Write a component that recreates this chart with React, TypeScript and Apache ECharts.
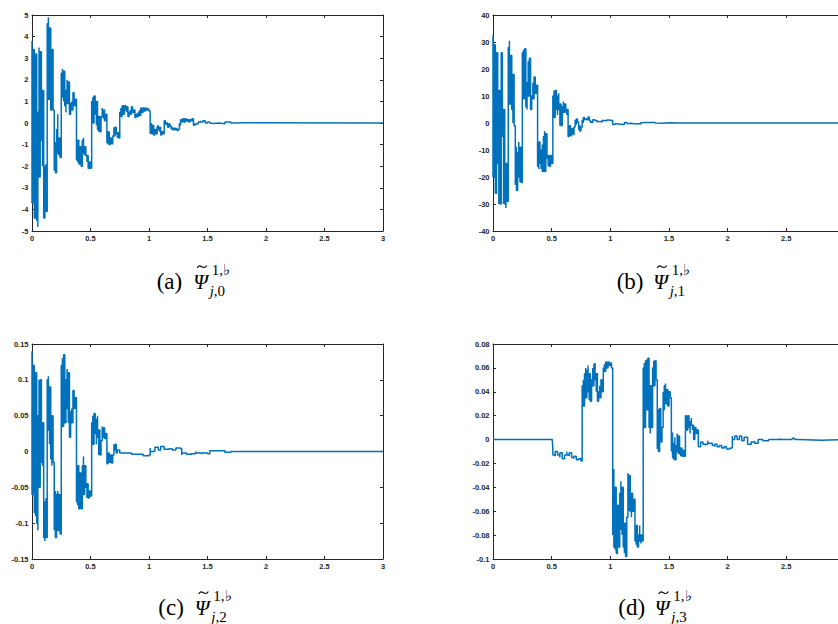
import React, { useEffect, useRef } from "react";
import * as echarts from "echarts";

type Row = [number, number, number]; // [t, upper envelope, lower envelope]

const xTicks = [0, 0.5, 1, 1.5, 2, 2.5, 3];

// (a) Psi~_{j,0}
const psiJ0: Row[] = [
  [0, 3.8, -3.7], [0.01, 3.4, -3.0], [0.02, 3.2, -4.4], [0.03, 3.2, -4.4], [0.04, 2.6, -4.5],
  [0.05, 0.5, -4.8], [0.06, 3.5, -2.5], [0.07, 3.3, -0.8], [0.08, 1.6, -0.8], [0.09, 1.5, -2.0],
  [0.1, -1.9, -4.4], [0.11, -2.0, -4.4], [0.12, -1.9, -4.1], [0.13, 4.6, 1.0], [0.14, 4.9, 1.1],
  [0.15, 4.4, 1.2], [0.16, 3.5, 0.6], [0.17, 3.4, 0.9], [0.18, 2.5, 0.6], [0.19, -0.9, -2.2],
  [0.2, -0.9, -2.3], [0.21, -0.3, -2.3], [0.22, 0.4, -1.4], [0.23, -0.7, -1.5], [0.24, -0.9, -1.6],
  [0.25, 2.3, 0.6], [0.26, 2.5, 1.2], [0.27, 2.4, 1.0], [0.28, 2.2, 0.8], [0.29, 1.5, 0.5],
  [0.3, 2.0, 0.9], [0.31, 1.9, 1.2], [0.32, 1.4, 0.4], [0.33, 0.9, 0.5], [0.34, 1.0, 0.6],
  [0.35, 1.4, 0.7], [0.36, 1.3, 0.8], [0.37, 1.1, 0.9], [0.38, -0.6, -1.7], [0.39, -0.8, -1.8],
  [0.4, -0.9, -1.9], [0.41, -1.1, -1.9], [0.42, -1.2, -2.0], [0.43, -0.8, -1.5], [0.44, -0.7, -1.4],
  [0.45, -1.1, -1.5], [0.46, -1.3, -1.5], [0.47, -1.5, -1.8], [0.48, -1.6, -2.1], [0.49, -1.8, -2.1],
  [0.5, -1.9, -2.1], [0.51, 1.0, -0.1], [0.52, 1.2, 0.0], [0.53, 1.25, 0.3], [0.54, 1.2, 0.4],
  [0.55, 1.0, -0.1], [0.56, 0.7, -0.3], [0.57, 0.3, -0.4], [0.58, 0.0, -0.4], [0.59, 0.3, -0.1],
  [0.6, 0.7, 0.3], [0.61, 0.6, 0.2], [0.62, 0.5, 0.1], [0.63, 0.4, 0.2], [0.64, -0.5, -0.9],
  [0.65, -0.4, -1.0], [0.66, -0.6, -1.0], [0.67, -0.7, -1.0], [0.68, -0.7, -0.95], [0.69, -0.6, -1.0],
  [0.7, -0.2, -0.6], [0.71, -0.2, -0.5], [0.72, -0.35, -0.5], [0.73, -0.45, -0.7], [0.74, -0.5, -0.7],
  [0.75, 0.5, 0.2], [0.76, 0.7, 0.3], [0.77, 0.8, 0.35], [0.78, 0.8, 0.4], [0.79, 0.8, 0.5],
  [0.8, 0.85, 0.6], [0.81, 0.75, 0.5], [0.82, 0.6, 0.3], [0.83, 0.5, 0.3], [0.84, 0.6, 0.4],
  [0.85, 0.75, 0.45], [0.86, 0.7, 0.5], [0.87, 0.6, 0.45], [0.88, 0.5, 0.25], [0.89, 0.4, 0.25],
  [0.9, 0.45, 0.3], [0.91, 0.5, 0.3], [0.92, 0.6, 0.35], [0.93, 0.7, 0.45], [0.94, 0.65, 0.5],
  [0.95, 0.7, 0.55], [0.96, 0.65, 0.55], [0.97, 0.7, 0.6], [0.98, 0.7, 0.6], [0.99, 0.65, 0.6],
  [1.0, 0.65, 0.55], [1.01, -0.1, -0.5], [1.02, 0.0, -0.5], [1.03, -0.1, -0.4], [1.04, -0.2, -0.55],
  [1.05, -0.3, -0.5], [1.06, -0.4, -0.5], [1.07, -0.15, -0.35], [1.08, -0.1, -0.3], [1.09, -0.2, -0.4],
  [1.1, -0.3, -0.55], [1.11, -0.4, -0.55], [1.12, -0.4, -0.5], [1.13, 0.1, -0.1], [1.14, 0.1, -0.05],
  [1.15, 0.0, -0.1], [1.16, -0.1, -0.2], [1.17, -0.05, -0.2], [1.18, -0.1, -0.15], [1.19, -0.2, -0.3],
  [1.2, -0.2, -0.3], [1.21, -0.25, -0.35], [1.22, -0.2, -0.3], [1.23, -0.25, -0.35], [1.24, -0.3, -0.35],
  [1.25, -0.3, -0.35], [1.26, 0.0, -0.1], [1.27, 0.15, 0.0], [1.28, 0.2, 0.05], [1.29, 0.2, 0.1],
  [1.3, 0.15, 0.05], [1.31, 0.2, 0.1], [1.32, 0.2, 0.1], [1.33, 0.15, 0.05], [1.34, 0.1, 0.05],
  [1.35, 0.15, 0.1], [1.36, 0.2, 0.1], [1.37, 0.2, 0.15], [1.38, -0.05, -0.1], [1.39, -0.05, -0.1],
  [1.4, 0.0, -0.05], [1.42, 0.05, -0.05], [1.44, 0.1, 0.05], [1.46, 0.1, 0.05], [1.48, 0.05, 0.0],
  [1.5, 0.05, 0.0], [1.52, 0.0, -0.02], [1.55, 0.0, -0.03], [1.6, -0.02, -0.03], [1.65, 0.05, 0.0],
  [1.7, 0.03, 0.0], [1.75, 0.01, 0.0], [1.8, 0, 0], [3.0, 0, 0],
];

// (b) Psi~_{j,1}
const psiJ1: Row[] = [
  [0, 32.6, -20], [0.01, 29, -10], [0.02, 20, -26], [0.03, 26, -26], [0.04, 22, -15],
  [0.05, 12, -30], [0.06, 12, -30], [0.07, 26, -5], [0.08, 24, -5], [0.09, 5, -30],
  [0.1, -15, -30], [0.11, -15, -31.5], [0.12, -17, -29], [0.13, 28, 8], [0.14, 30.5, 7],
  [0.15, 25, 8], [0.16, 17, 5], [0.17, 18, 0], [0.18, 17, -1], [0.19, -9, -23],
  [0.2, -10, -25], [0.21, -11, -25], [0.22, -7, -20], [0.23, -9, -22], [0.24, -15, -22],
  [0.25, 26, 12], [0.26, 27, 9], [0.27, 27.5, 13], [0.28, 25, 6], [0.29, 15, 5],
  [0.3, 23, 10], [0.31, 24, 10], [0.32, 17, 5], [0.33, 10, 5], [0.34, 15, 9],
  [0.35, 17, 11], [0.36, 16, 11], [0.37, 14, 11], [0.38, -5, -16], [0.39, -7, -17],
  [0.4, -8, -15], [0.41, -10, -17], [0.42, -8, -18], [0.43, -5, -17], [0.44, -3, -18],
  [0.45, -4, -13], [0.46, -10, -13], [0.47, -12, -16], [0.48, -12, -16], [0.49, -12, -16],
  [0.5, -12, -15], [0.51, 10, 2], [0.52, 12, 2], [0.53, 12, 4], [0.54, 11, 5],
  [0.55, 10, 3], [0.56, 11, 5], [0.57, 7, -1], [0.58, 4, -1], [0.59, 6, 1],
  [0.6, 8, 4], [0.61, 7, 4], [0.62, 7, 4], [0.63, 5, 3], [0.64, -2, -5],
  [0.65, -1, -5], [0.66, -1, -4.5], [0.67, -2, -5], [0.68, -2, -4], [0.69, -1.5, -4.5],
  [0.7, 1.2, -0.5], [0.71, 1.5, 0], [0.72, 1.2, 0.3], [0.73, -1, -2.5], [0.74, -1.5, -3],
  [0.75, -1.5, -2.5], [0.76, 1.2, 0.2], [0.77, 2, 0.8], [0.78, 2, 1.2], [0.79, 1.5, 1],
  [0.8, 1.8, 1.2], [0.81, 2.2, 1.5], [0.82, 1.6, 1], [0.83, 0.5, 0], [0.84, 0.6, 0.2],
  [0.85, 1.2, 0.7], [0.87, 1.4, 0.8], [0.89, 0.6, 0.4], [0.91, 0.7, 0.4], [0.93, 0.9, 0.6],
  [0.95, 1.0, 0.8], [0.97, 1.1, 0.9], [0.99, 1.0, 0.9], [1.01, 1.0, 0.8], [1.02, -0.3, -0.6],
  [1.04, -0.3, -0.6], [1.06, -0.2, -0.5], [1.08, -0.5, -0.7], [1.1, -0.2, -0.6], [1.12, 0.2, -0.1],
  [1.14, 0.0, -0.2], [1.16, -0.1, -0.2], [1.18, -0.2, -0.3], [1.2, -0.3, -0.4], [1.24, -0.3, -0.4],
  [1.26, 0.2, 0.1], [1.3, 0.4, 0.2], [1.36, 0.3, 0.2], [1.38, 0.0, -0.1], [1.45, 0.1, 0.0],
  [1.5, 0.05, 0], [1.6, 0.02, 0], [1.7, 0, 0], [3.0, 0, 0],
];

// (c) Psi~_{j,2}
const psiJ2: Row[] = [
  [0, 0.14, -0.06], [0.01, 0.12, -0.06], [0.02, 0.11, -0.085], [0.03, 0.11, -0.09], [0.04, 0.06, -0.1],
  [0.05, 0.05, -0.11], [0.06, 0.1, -0.05], [0.07, 0.1, -0.02], [0.08, 0.045, -0.015], [0.09, 0.04, -0.02],
  [0.1, -0.06, -0.12], [0.11, -0.07, -0.125], [0.12, -0.065, -0.12], [0.13, 0.1, 0.02], [0.14, 0.105, 0.03],
  [0.15, 0.09, 0.01], [0.16, 0.085, -0.01], [0.17, 0.05, -0.02], [0.18, 0.045, -0.015], [0.19, -0.06, -0.11],
  [0.2, -0.055, -0.12], [0.21, -0.06, -0.12], [0.22, -0.055, -0.11], [0.23, -0.06, -0.11], [0.24, -0.075, -0.115],
  [0.25, 0.12, 0.04], [0.26, 0.13, 0.035], [0.27, 0.135, 0.05], [0.28, 0.125, 0.04], [0.29, 0.1, 0.05],
  [0.3, 0.115, 0.06], [0.31, 0.11, 0.04], [0.32, 0.07, 0.02], [0.33, 0.055, 0.03], [0.34, 0.06, 0.04],
  [0.35, 0.085, 0.05], [0.36, 0.08, 0.06], [0.37, 0.075, 0.065], [0.38, -0.02, -0.07], [0.39, -0.02, -0.075],
  [0.4, -0.03, -0.08], [0.41, -0.03, -0.075], [0.42, -0.035, -0.08], [0.43, -0.02, -0.07], [0.44, -0.007, -0.06],
  [0.45, -0.02, -0.045], [0.46, -0.035, -0.05], [0.47, -0.045, -0.065], [0.48, -0.05, -0.065], [0.49, -0.055, -0.06],
  [0.5, -0.055, -0.062], [0.51, 0.04, 0.008], [0.52, 0.05, 0.01], [0.53, 0.053, 0.02], [0.54, 0.05, 0.025],
  [0.55, 0.045, 0.01], [0.56, 0.05, 0.02], [0.57, 0.03, -0.005], [0.58, 0.02, -0.005], [0.59, 0.015, 0.005],
  [0.6, 0.035, 0.02], [0.61, 0.033, 0.02], [0.62, 0.03, 0.018], [0.63, 0.025, 0.018], [0.64, -0.005, -0.017],
  [0.65, -0.002, -0.016], [0.66, -0.003, -0.015], [0.67, -0.005, -0.013], [0.68, -0.006, -0.016], [0.69, -0.005, -0.015],
  [0.7, 0.01, 0.002], [0.71, 0.01, 0.003], [0.72, 0.005, -0.002], [0.73, 0.002, -0.002], [0.75, 0.0, -0.002],
  [0.8, -0.002, -0.003], [0.85, -0.003, -0.004], [0.9, -0.004, -0.005], [0.95, -0.005, -0.006], [1.0, -0.005, -0.007],
  [1.01, 0.005, 0.0], [1.05, 0.006, 0.003], [1.08, 0.004, 0.002], [1.1, 0.007, 0.004], [1.13, 0.005, 0.003],
  [1.17, 0.004, 0.002], [1.2, 0.003, 0.002], [1.23, 0.005, 0.003], [1.27, 0.005, 0.004], [1.28, -0.002, -0.005],
  [1.32, -0.002, -0.004], [1.36, -0.003, -0.005], [1.4, 0.0, -0.002], [1.45, -0.002, -0.004], [1.5, -0.002, -0.003],
  [1.52, 0.001, 0.0], [1.6, 0.002, 0.001], [1.65, -0.001, -0.002], [1.7, 0.001, 0.0], [1.75, 0.0, -0.001],
  [1.9, 0, 0], [3.0, 0, 0],
];

// (d) Psi~_{j,3}
const psiJ3: Row[] = [
  [0, 0, 0], [0.505, 0, 0], [0.51, -0.008, -0.013], [0.53, -0.01, -0.014], [0.55, -0.01, -0.013],
  [0.57, -0.011, -0.015], [0.59, -0.012, -0.016], [0.61, -0.013, -0.016], [0.63, -0.01, -0.013], [0.65, -0.011, -0.014],
  [0.67, -0.013, -0.015], [0.69, -0.014, -0.016], [0.71, -0.015, -0.017], [0.73, -0.016, -0.017], [0.75, -0.016, -0.018],
  [0.76, 0.045, 0.025], [0.77, 0.05, 0.028], [0.78, 0.055, 0.03], [0.79, 0.06, 0.035], [0.8, 0.058, 0.04],
  [0.81, 0.062, 0.04], [0.82, 0.055, 0.033], [0.83, 0.045, 0.032], [0.84, 0.05, 0.04], [0.85, 0.06, 0.045],
  [0.86, 0.063, 0.05], [0.87, 0.064, 0.05], [0.88, 0.055, 0.04], [0.89, 0.045, 0.032], [0.9, 0.04, 0.032],
  [0.91, 0.045, 0.035], [0.92, 0.05, 0.04], [0.93, 0.048, 0.04], [0.94, 0.06, 0.055], [0.95, 0.063, 0.057],
  [0.96, 0.065, 0.058], [0.97, 0.064, 0.06], [0.98, 0.065, 0.06], [0.99, 0.065, 0.062], [1.0, 0.064, 0.062],
  [1.01, 0.063, 0.06], [1.02, -0.025, -0.08], [1.03, -0.03, -0.09], [1.04, -0.04, -0.092], [1.05, -0.045, -0.095],
  [1.06, -0.055, -0.096], [1.07, -0.06, -0.09], [1.08, -0.045, -0.08], [1.09, -0.035, -0.075], [1.1, -0.04, -0.08],
  [1.11, -0.06, -0.09], [1.12, -0.07, -0.095], [1.13, -0.075, -0.098], [1.14, -0.065, -0.09], [1.15, -0.028, -0.05],
  [1.16, -0.03, -0.06], [1.17, -0.035, -0.06], [1.18, -0.045, -0.065], [1.19, -0.045, -0.06], [1.2, -0.05, -0.055],
  [1.21, -0.075, -0.085], [1.22, -0.072, -0.088], [1.23, -0.075, -0.09], [1.24, -0.08, -0.09], [1.25, -0.072, -0.085],
  [1.26, -0.08, -0.087], [1.27, -0.08, -0.085], [1.28, 0.06, 0.005], [1.29, 0.064, 0.01], [1.3, 0.066, 0.02],
  [1.31, 0.067, 0.025], [1.32, 0.068, 0.03], [1.33, 0.065, 0.01], [1.34, 0.045, 0.005], [1.35, 0.04, 0.01],
  [1.36, 0.06, 0.035], [1.37, 0.066, 0.045], [1.38, 0.066, 0.05], [1.39, 0.063, 0.05], [1.4, 0.025, -0.008],
  [1.41, 0.025, -0.01], [1.42, 0.026, 0.0], [1.43, 0.02, -0.002], [1.44, 0.01, -0.002], [1.45, 0.04, 0.025],
  [1.46, 0.045, 0.03], [1.47, 0.047, 0.03], [1.48, 0.042, 0.03], [1.49, 0.035, 0.028], [1.5, 0.04, 0.03],
  [1.51, 0.04, 0.035], [1.52, 0.005, -0.01], [1.53, 0.006, -0.015], [1.54, -0.003, -0.017], [1.55, 0.002, -0.017],
  [1.56, -0.005, -0.015], [1.57, 0.005, -0.01], [1.58, 0.003, -0.012], [1.59, -0.005, -0.012], [1.6, -0.007, -0.014],
  [1.61, -0.008, -0.014], [1.62, -0.009, -0.013], [1.63, -0.009, -0.014], [1.64, 0.02, 0.01], [1.65, 0.02, 0.008],
  [1.66, 0.02, 0.01], [1.67, 0.018, 0.01], [1.68, 0.015, 0.005], [1.69, 0.018, 0.012], [1.7, 0.012, 0.008],
  [1.71, 0.007, 0.0], [1.72, 0.01, 0.004], [1.73, 0.008, 0.005], [1.74, 0.008, 0.005], [1.75, -0.002, -0.006],
  [1.77, -0.002, -0.004], [1.79, -0.003, -0.004], [1.81, -0.004, -0.005], [1.83, -0.001, -0.003], [1.85, -0.003, -0.004],
  [1.87, -0.004, -0.005], [1.89, -0.004, -0.006], [1.91, -0.005, -0.006], [1.93, -0.005, -0.006], [1.95, -0.006, -0.007],
  [1.97, -0.006, -0.007], [1.99, -0.007, -0.008], [2.02, -0.007, -0.008], [2.04, 0.003, 0.0], [2.06, 0.003, 0.001],
  [2.08, 0.002, 0.0], [2.1, 0.003, 0.001], [2.12, 0.001, -0.001], [2.14, 0.002, 0.0], [2.17, -0.002, -0.004],
  [2.2, -0.002, -0.003], [2.23, -0.001, -0.003], [2.26, 0.0, -0.001], [2.3, 0.0, -0.001], [2.35, 0, 0],
  [2.45, 0.001, 0.0], [2.55, 0.001, 0.0], [2.57, 0, 0], [2.6, -0.0005, -0.0005], [2.8, 0, 0], [3.0, 0, 0],
];

const yMins = [-5, -40, -0.15, -0.1];
const yMaxs = [5, 40, 0.15, 0.08];
const yIntervals = [1, 10, 0.05, 0.02];
const panelLetters = ["a", "b", "c", "d"];
const panelIndices = ["0", "1", "2", "3"];
const panelData = [psiJ0, psiJ1, psiJ2, psiJ3];
// right-hand panels are cut by the page edge: their last x label is not shown
const showLastXLabel = [true, false, true, false];

const LINE = "#0072BD";
const AX = "#262626";

function toPolyline(rows: Row[]): [number, number][] {
  const out: [number, number][] = [];
  rows.forEach(([x, h, l], i) => {
    const a = i % 2 === 0 ? h : l;
    const b = i % 2 === 0 ? l : h;
    out.push([x, a]);
    if (a !== b) out.push([x, b]);
  });
  return out;
}

const grids = [
  { left: 32, top: 15, width: 351, height: 216 },
  { left: 493, top: 15, width: 352, height: 216 },
  { left: 32, top: 344, width: 351, height: 215 },
  { left: 493, top: 344, width: 352, height: 215 },
];

const captionPos = [
  { x: 156.7, y: 289 },
  { x: 616.7, y: 289 },
  { x: 158.3, y: 615 },
  { x: 618.3, y: 615 },
];

export default function App() {
  const ref = useRef<HTMLDivElement>(null);
  useEffect(() => {
    if (!ref.current) return;
    const chart = echarts.init(ref.current, undefined, { renderer: "svg" });
    const labelStyle = {
      fontSize: 7.5,
      fontWeight: "bold" as const,
      color: AX,
      fontFamily: "Liberation Sans, Arial, sans-serif",
    };
    const xAxes: any[] = [];
    const yAxes: any[] = [];
    const series: any[] = [];
    grids.forEach((g, i) => {
      const common = {
        gridIndex: i,
        type: "value",
        axisLine: { show: true, onZero: false, lineStyle: { color: AX, width: 1 } },
        axisTick: { show: true, inside: true, length: 3, lineStyle: { color: AX, width: 1 } },
        splitLine: { show: false },
      };
      xAxes.push({
        ...common,
        position: "bottom",
        min: 0,
        max: 3,
        interval: 0.5,
        axisLabel: {
          ...labelStyle,
          margin: 3,
          showMaxLabel: showLastXLabel[i],
          formatter: (v: number) => (xTicks.includes(v) ? String(v) : ""),
        },
      });
      xAxes.push({
        ...common,
        position: "top",
        min: 0,
        max: 3,
        interval: 0.5,
        axisLabel: { show: false },
      });
      yAxes.push({
        ...common,
        position: "left",
        min: yMins[i],
        max: yMaxs[i],
        interval: yIntervals[i],
        axisLabel: { ...labelStyle, margin: 3.5 },
      });
      yAxes.push({
        ...common,
        position: "right",
        min: yMins[i],
        max: yMaxs[i],
        interval: yIntervals[i],
        axisLabel: { show: false },
      });
      series.push({
        type: "line",
        xAxisIndex: 2 * i,
        yAxisIndex: 2 * i,
        data: toPolyline(panelData[i]),
        step: "end",
        symbol: "none",
        showSymbol: false,
        silent: true,
        clip: true,
        lineStyle: { color: LINE, width: 1.5 },
      });
    });

    const graphics: any[] = [];
    const serif = "'Liberation Serif', 'Times New Roman', serif";
    captionPos.forEach((p, i) => {
      graphics.push({
        type: "text",
        x: p.x,
        y: p.y - 7.5,
        style: { text: `(${panelLetters[i]})`, font: `23px ${serif}`, fill: "#000", verticalAlign: "middle" },
      });
      graphics.push({
        type: "text",
        x: p.x + 36.5,
        y: p.y - 7.5,
        style: { text: "Ψ", font: `italic 21px ${serif}`, fill: "#000", verticalAlign: "middle" },
      });
      // tilde accent over Psi
      graphics.push({
        type: "bezierCurve",
        shape: {
          x1: p.x + 40.5,
          y1: p.y - 21,
          cpx1: p.x + 43.5,
          cpy1: p.y - 27,
          cpx2: p.x + 46.5,
          cpy2: p.y - 17.5,
          x2: p.x + 50,
          y2: p.y - 23.5,
        },
        style: { stroke: "#000", lineWidth: 1.1, fill: "none" },
      });
      graphics.push({
        type: "text",
        x: p.x + 55,
        y: p.y - 19.5,
        style: { text: "1,♭", font: `15px ${serif}`, fill: "#000", verticalAlign: "middle" },
      });
      graphics.push({
        type: "text",
        x: p.x + 53,
        y: p.y + 2,
        style: {
          text: `{i|j},${panelIndices[i]}`,
          font: `15px ${serif}`,
          fill: "#000",
          verticalAlign: "middle",
          rich: { i: { fontStyle: "italic", fontSize: 15, fontFamily: serif, fill: "#000" } },
        },
      });
    });

    chart.setOption({
      animation: false,
      backgroundColor: "#ffffff",
      grid: grids.map((g) => ({ ...g, containLabel: false, outerBoundsMode: "none" })),
      xAxis: xAxes,
      yAxis: yAxes,
      series,
      graphic: graphics,
    });
    return () => chart.dispose();
  }, []);
  return (
    <div
      ref={ref}
      style={{ position: "absolute", left: 0, top: 0, width: 838, height: 624, background: "#fff" }}
    />
  );
}
